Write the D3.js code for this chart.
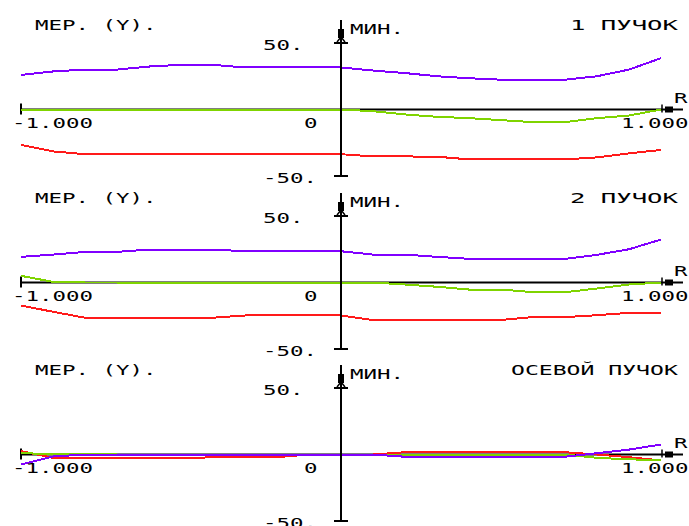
<!DOCTYPE html>
<html>
<head>
<meta charset="utf-8">
<script src="https://cdn.jsdelivr.net/npm/d3@7"></script>
<style>
  body { margin: 0; background: #fff; }
  text { font-family: "DejaVu Sans Mono", monospace; font-size: 14px; fill: #000; }
</style>
</head>
<body>
<svg id="grafica" width="689" height="526"></svg>
<script>
// pupil coordinate R, same grid for every curve
var rGrid = [-1, -0.9, -0.8, -0.7, -0.6, -0.5, -0.4, -0.3, -0.2, -0.1, 0,
             0.1, 0.2, 0.3, 0.4, 0.5, 0.6, 0.7, 0.8, 0.9, 1];

// 1 пучок
var violet1 = [26, 28.6, 30, 30, 32.3, 33.6, 33.6, 31.6, 31.6, 31.6, 31.6, 29.3, 27.4, 25, 23.5, 22.4, 22.4, 22.4, 25, 30, 38.6];
var green1  = [0, 0, 0, 0, 0, 0, 0, 0, 0, 0, 0, -1.3, -3.7, -5.5, -6.5, -8, -9.5, -9.5, -6.5, -4.5, 0];
var red1    = [-26.6, -31.5, -33.6, -33.6, -33.6, -33.6, -33.6, -33.6, -33.6, -33.6, -33.6, -35.3, -35.3, -35.5, -37.5, -37.5, -37.5, -37.5, -36, -33, -30.4];

// 2 пучок
var violet2 = [19.3, 21, 23, 23, 24.8, 24.8, 24.8, 23.5, 23.5, 23.5, 23.5, 21, 21, 19.3, 17.8, 17.8, 17.8, 17.8, 20.8, 25, 32.3];
var green2  = [5, 0.5, 0, 0, 0, 0, 0, 0, 0, 0, 0, 0, -1.5, -3.2, -5.3, -5.3, -7.3, -7.3, -4.5, -1.5, 0];
var red2    = [-17.3, -22, -26.5, -26.5, -26.5, -26.5, -26.5, -24.8, -24.8, -24.8, -24.8, -28.2, -28.2, -28.2, -28.2, -28.2, -26, -26, -24.6, -22.8, -22.8];

// осевой пучок
var violet3 = [-7.5, -1.5, 0, 0, 0, 0, 0, 0, 0, 0, 0, 0, -1.7, -1.7, -1.7, -1.7, -1.7, -1.7, 1, 3.7, 7.5];
var green3  = [1, 0.3, 0.3, 0, 0, 0, 0, 0, 0, 0, 0, 0, 0, 0, 0, 0, 0, 0, -2.5, -3.7, -4];
var red3    = [2.5, -2.5, -3, -3, -3, -3, -2, -2, -2, 0, 0, 0, 1.7, 1.7, 1.7, 1.7, 1.7, 1.7, 0, -2, -4.5];

var panelTitles = ["1  ПУЧОК", "2  ПУЧОК", "ОСЕВОЙ ПУЧОК"];
var yTicks = [50, -50];
var yTickLabels = ["50.", "-50."];
var xTicks = [-1, 0, 1];
var xTickLabels = ["-1.000", "0", "1.000"];

var panels = [
  {title: panelTitles[0], series: [red1, green1, violet1]},
  {title: panelTitles[1], series: [red2, green2, violet2]},
  {title: panelTitles[2], series: [red3, green3, violet3]}
];
var colors = ["#ff1a1a", "#7fd400", "#8000ff"];

var svg = d3.select("#grafica");
var pitch = 13.5;   // width of one character cell

var x = d3.scaleLinear().domain([-1, 1]).range([21, 661]);

function label(g, txt, px, py, cell) {
  g.append("text")
    .attr("x", px).attr("y", py)
    .attr("textLength", txt.length * (cell || pitch))
    .attr("lengthAdjust", "spacingAndGlyphs")
    .text(txt);
}

var zeros = [110, 283, 455];

panels.forEach(function(p, i) {
  var z = zeros[i];
  var y = d3.scaleLinear().domain([-50, 50]).range([z + 66, z - 67]);
  var g = svg.append("g");
  var x0 = x(0);

  // R axis
  g.append("line")
    .attr("x1", x(-1)).attr("x2", 683)
    .attr("y1", y(0)).attr("y2", y(0))
    .attr("stroke", "#000").attr("stroke-width", 2);
  g.append("line")
    .attr("x1", x(-1)).attr("x2", x(-1))
    .attr("y1", y(0) - 6).attr("y2", y(0) + 5)
    .attr("stroke", "#000").attr("stroke-width", 2);
  g.append("line")
    .attr("x1", x(1) + 1).attr("x2", x(1) + 1)
    .attr("y1", y(0) - 5).attr("y2", y(0) + 3)
    .attr("stroke", "#000").attr("stroke-width", 1.5);
  g.append("rect")
    .attr("x", x(1) + 4).attr("y", y(0) - 3)
    .attr("width", 8).attr("height", 6)
    .attr("fill", "#000");

  // curves
  var line = d3.line()
    .x(function(d, k) { return x(rGrid[k]); })
    .y(function(d) { return y(d); });

  p.series.forEach(function(s, k) {
    g.append("path")
      .datum(s)
      .attr("d", line)
      .attr("fill", "none")
      .attr("stroke", colors[k])
      .attr("stroke-width", 2)
      .attr("shape-rendering", "crispEdges");
  });

  // vertical axis, on top of the curves
  g.append("line")
    .attr("x1", x0).attr("x2", x0)
    .attr("y1", z - 90).attr("y2", y(-50))
    .attr("stroke", "#000").attr("stroke-width", 2);
  g.append("rect")
    .attr("x", x0 - 3).attr("y", z - 81)
    .attr("width", 6).attr("height", 9)
    .attr("fill", "#000");
  g.append("path")
    .attr("d", "M" + (x0 - 4) + "," + (y(50) - 1) + "L" + x0 + "," + (z - 73) + "L" + (x0 + 4) + "," + (y(50) - 1))
    .attr("fill", "none").attr("stroke", "#000").attr("stroke-width", 1.5);
  yTicks.forEach(function(t) {
    g.append("line")
      .attr("x1", x0 - 7).attr("x2", x0 + 7)
      .attr("y1", y(t)).attr("y2", y(t))
      .attr("stroke", "#000").attr("stroke-width", 2);
  });

  // texts
  yTicks.forEach(function(t, k) {
    label(g, yTickLabels[k], 263, y(t) + 7);
  });
  label(g, xTickLabels[0], x(-1) - 9, z + 18);
  label(g, xTickLabels[1], x(0) - 37, z + 18);
  label(g, xTickLabels[2], x(1) - 40, z + 18);
  label(g, "R", 674, z - 7);
  label(g, "МЕР. (Y).", 35, z - 80);
  label(g, "МИН.", 350, z - 76);
  if (i < 2) label(g, p.title, 570, z - 80);
  else label(g, p.title, 511, z - 80, 13.9);
});
</script>
</body>
</html>
